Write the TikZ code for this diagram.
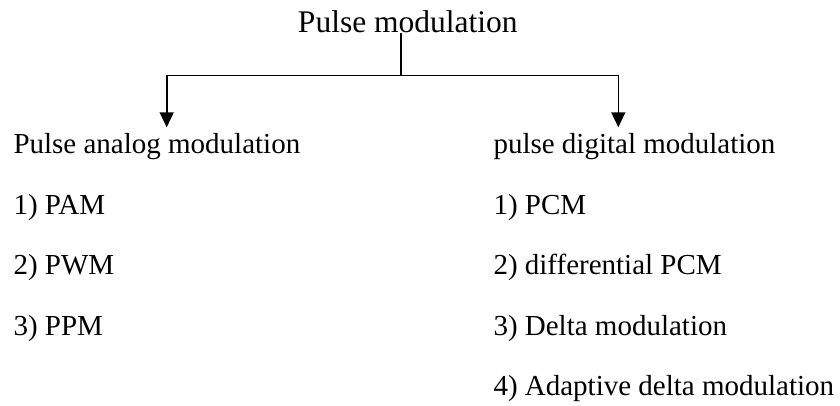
\documentclass[tikz,border=0pt]{standalone}
\usepackage{fontspec}
\setmainfont{Liberation Serif}
\usetikzlibrary{arrows.meta}
\tikzset{
  item/.style={anchor=base west, inner sep=0pt, font=\fontsize{29}{35}\selectfont},
  ttl/.style={anchor=base, inner sep=0pt, font=\fontsize{31.5}{38}\selectfont},
  conn/.style={line width=1.6pt},
  arr/.style={conn, -{Triangle[width=14pt,length=15pt]}}
}
\begin{document}
\begin{tikzpicture}[x=1pt,y=1pt]
\useasboundingbox (0,0) rectangle (840,-405);
\node[ttl] (title) at (407.8,-32.3) {Pulse modulation};
\node[item] (analog) at (13.3,-153.3) {Pulse analog modulation};
\node[item] (pam) at (13.3,-214) {1) PAM};
\node[item] (pwm) at (13.3,-274) {2) PWM};
\node[item] (ppm) at (13.3,-335) {3) PPM};
\node[item] (digital) at (493.3,-153.3) {pulse digital modulation};
\node[item] (pcm) at (493.3,-214) {1) PCM};
\node[item] (dpcm) at (493.3,-274) {2) differential PCM};
\node[item] (dm) at (493.3,-335) {3) Delta modulation};
\node[item] (adm) at (493.3,-395) {4) Adaptive delta modulation};
\coordinate (j) at (401,-75.5);
\coordinate (la) at (166.7,-127.3);
\coordinate (ra) at (618.3,-127.3);
\draw[conn] (j |- title.south) -- (j);
\draw[arr] (j) -| (la);
\draw[arr] (j) -| (ra);
\end{tikzpicture}
\end{document}
